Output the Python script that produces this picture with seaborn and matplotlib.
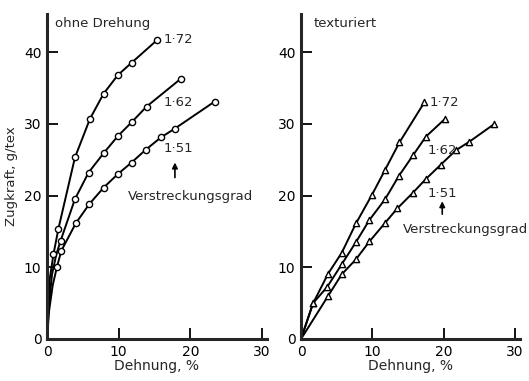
import matplotlib
matplotlib.use("Agg")
import matplotlib.pyplot as plt
import seaborn as sns

# data (Dehnung %, Zugkraft g/tex)
grades = ["1·72", "1·62", "1·51"]

# ohne Drehung - measured points
o172_x = [0.9, 1.6, 3.9, 6.0, 7.9, 9.9, 11.8, 15.4]
o172_y = [11.8, 15.4, 25.3, 30.7, 34.2, 36.8, 38.5, 41.7]
o162_x = [1.9, 3.9, 5.8, 7.9, 9.9, 11.8, 13.9, 18.7]
o162_y = [13.7, 19.5, 23.2, 25.9, 28.3, 30.2, 32.4, 36.3]
o151_x = [1.4, 2.0, 4.0, 5.9, 7.9, 9.9, 11.8, 13.8, 15.9, 17.8, 23.4]
o151_y = [10.1, 12.3, 16.1, 18.8, 21.1, 23.0, 24.6, 26.4, 28.1, 29.3, 33.1]
# curve from the origin up to the first point (no markers)
o172_start_x = [0, 0.1, 0.4]
o172_start_y = [0, 4.0, 8.5]
o162_start_x = [0, 0.2, 0.7, 1.3]
o162_start_y = [0, 4.0, 9.0, 11.8]
o151_start_x = [0, 0.3, 0.8]
o151_start_y = [0, 4.0, 7.5]

# texturiert - measured points
t172_x = [1.7, 3.8, 5.7, 7.7, 9.95, 11.8, 13.8, 17.3]
t172_y = [5.0, 9.1, 12.0, 16.1, 20.1, 23.6, 27.4, 33.0]
t162_x = [1.7, 3.7, 5.7, 7.7, 9.6, 11.8, 13.7, 15.7, 17.5, 20.2]
t162_y = [5.0, 7.3, 10.4, 13.5, 16.6, 19.5, 22.7, 25.6, 28.2, 30.7]
t151_x = [3.8, 5.7, 7.7, 9.6, 11.8, 13.5, 15.7, 17.5, 19.6, 21.7, 23.6, 27.0]
t151_y = [6.0, 9.0, 11.1, 13.6, 16.2, 18.2, 20.4, 22.3, 24.3, 26.3, 27.5, 29.9]

sns.set_style("ticks")
plt.rcParams["font.family"] = ["DejaVu Sans"]

fig = plt.figure(figsize=(5.29, 3.81), dpi=100)
ax1 = fig.add_axes([47 / 529, 1 - 339 / 381, 220 / 529, 325 / 381])
ax2 = fig.add_axes([301 / 529, 1 - 339 / 381, 219 / 529, 325 / 381])


def draw(ax, xs, ys, marker, starts=None):
    for i in range(len(xs)):
        lx, ly = xs[i], ys[i]
        if starts is not None:
            lx = starts[i][0] + lx
            ly = starts[i][1] + ly
        else:
            lx = [0] + lx
            ly = [0] + ly
        sns.lineplot(x=lx, y=ly, color="black", lw=1.4, sort=False,
                     estimator=None, ax=ax)
        sns.scatterplot(x=xs[i], y=ys[i], marker=marker, s=20, color="white",
                        edgecolor="black", linewidth=1.0, zorder=3, ax=ax)


draw(ax1, [o172_x, o162_x, o151_x], [o172_y, o162_y, o151_y], "o",
     starts=[(o172_start_x, o172_start_y), (o162_start_x, o162_start_y),
             (o151_start_x, o151_start_y)])
draw(ax2, [t172_x, t162_x, t151_x], [t172_y, t162_y, t151_y], "^")

for ax in (ax1, ax2):
    ax.set_xlim(0, 30.7)
    ax.set_ylim(0, 45.3)
    ax.set_xticks([0, 10, 20, 30])
    ax.set_yticks([0, 10, 20, 30, 40])
    sns.despine(ax=ax)
    ax.spines["left"].set_linewidth(2.2)
    ax.spines["bottom"].set_linewidth(2.2)
    ax.tick_params(direction="in", length=8, width=1.3, labelsize=10,
                   pad=4, colors="black")
    ax.set_xlabel("Dehnung, %", fontsize=10, labelpad=0)
    ax.set_facecolor("white")

ax1.set_ylabel("Zugkraft, g/tex", fontsize=9.5, labelpad=4)
ax2.set_ylabel("")

fs = 9.5
arrow = dict(arrowstyle="-|>", color="black", lw=1.2, mutation_scale=8,
             shrinkA=0, shrinkB=0)
ax1.text(1.1, 44.0, "ohne Drehung", fontsize=fs, va="center")
ax1.text(16.3, 41.8, grades[0], fontsize=fs, va="center")
ax1.text(16.2, 33.0, grades[1], fontsize=fs, va="center")
ax1.text(16.2, 26.6, grades[2], fontsize=fs, va="center")
ax1.annotate("", xy=(17.85, 24.6), xytext=(17.85, 22.5), arrowprops=arrow)
ax1.text(11.3, 19.9, "Verstreckungsgrad", fontsize=fs, va="center")

ax2.text(1.7, 44.0, "texturiert", fontsize=fs, va="center")
ax2.text(18.0, 32.9, grades[0], fontsize=fs, va="center")
ax2.text(17.8, 26.3, grades[1], fontsize=fs, va="center")
ax2.text(17.8, 20.3, grades[2], fontsize=fs, va="center")
ax2.annotate("", xy=(19.8, 19.2), xytext=(19.8, 17.4), arrowprops=arrow)
ax2.text(14.3, 15.2, "Verstreckungsgrad", fontsize=fs, va="center",
         clip_on=False)

fig.savefig("out.png", dpi=100, facecolor="white")
